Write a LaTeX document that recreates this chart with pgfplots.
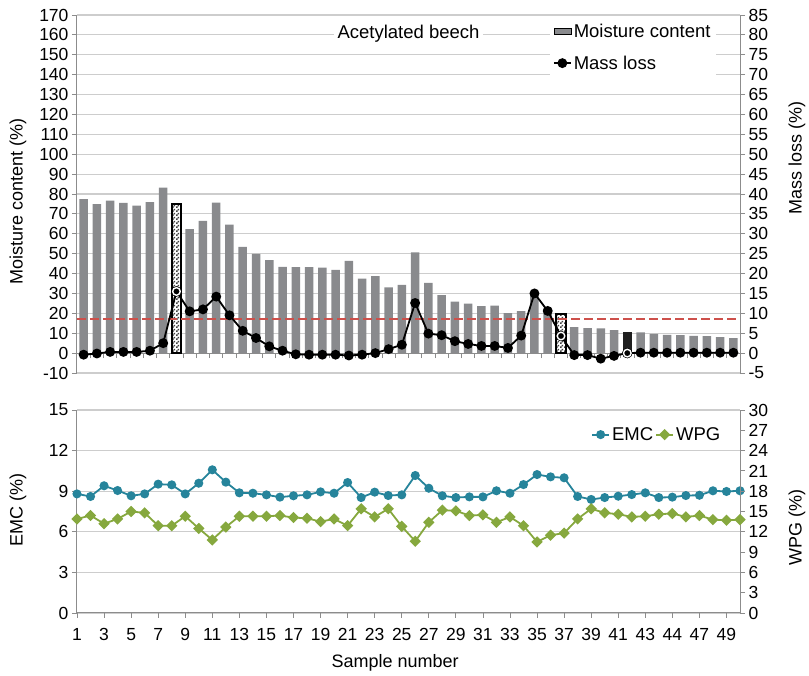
\documentclass[border=0pt]{standalone}
\usepackage{fontspec}
\setmainfont{Liberation Sans}
\usepackage{pgfplots}
\pgfplotsset{compat=1.18}
\usetikzlibrary{patterns}
\pgfdeclarepatternformonly{checks}{\pgfpoint{0pt}{0pt}}{\pgfpoint{4pt}{4pt}}{\pgfpoint{4pt}{4pt}}{%
  \pgfpathrectangle{\pgfpoint{0pt}{0pt}}{\pgfpoint{2pt}{2pt}}%
  \pgfpathrectangle{\pgfpoint{2pt}{2pt}}{\pgfpoint{2pt}{2pt}}%
  \pgfusepath{fill}}
\definecolor{barc}{RGB}{137,138,141}
\definecolor{gridc}{RGB}{205,205,205}
\definecolor{axc}{RGB}{140,140,140}
\definecolor{mlred}{RGB}{205,80,75}
\definecolor{emc}{RGB}{38,132,155}
\definecolor{wpg}{RGB}{134,168,62}
\pgfplotsset{
  base/.style={scale only axis, width=663pt,
    /pgf/number format/assume math mode=true,
    font=\fontsize{17}{20}\selectfont,
    tick label style={font=\fontsize{17.5}{20}\selectfont},
    label style={font=\fontsize{18}{21}\selectfont},
    legend style={font=\fontsize{18.5}{21}\selectfont},
    axis line style={axc, line width=1pt},
    major tick length=5pt,
    tick style={axc, line width=0.8pt},
    grid style={gridc, line width=1.2pt},
    ytick align=outside, xtick align=outside,
  }
}
\begin{document}
\begin{tikzpicture}
\useasboundingbox (-77pt,-63pt) rectangle (732pt,613pt);
% ---------- top, left axis: moisture content ----------
\begin{axis}[base, at={(0,240pt)}, anchor=south west, height=358pt,
  xmin=0.5, xmax=50.5, ymin=-10, ymax=170,
  axis y line*=left, axis x line*=middle,
  ytick={-10,0,...,170}, ymajorgrids,
  xtick={0.5,1.5,...,50.5}, xticklabels={},
  ylabel={Moisture content (\%)},
  ylabel style={at={(axis description cs:-0.089,0.48)}, anchor=center},
]
\addplot[ybar, bar width=8.5pt, bar shift=0pt, fill=barc, draw=none] coordinates {
(1,77.4)(2,74.9)(3,76.7)(4,75.5)(5,74.2)(6,75.9)(7,83.2)
(9,62.3)(10,66.5)(11,75.7)(12,64.6)(13,53.4)(14,49.9)(15,46.7)(16,43.4)(17,43.2)(18,43.2)(19,43.0)(20,41.9)
(21,46.4)(22,37.5)(23,38.7)(24,33.0)(25,34.3)(26,50.6)(27,35.3)(28,29.1)(29,25.9)(30,24.9)
(31,23.6)(32,23.9)(33,20.1)(34,21.1)(35,29.5)(36,22.5)(38,13.1)(39,12.6)(40,12.4)
(41,11.6)(43,10.4)(44,9.7)(45,9.2)(46,9.0)(47,8.7)(48,8.5)(49,8.0)(50,7.5)};
\addplot[ybar, bar width=9.5pt, bar shift=0pt, draw=black, line width=2pt, fill=white,
  postaction={pattern=checks, pattern color=black!75}] coordinates {(8,75.0)(37,19.9)};
\addplot[ybar, bar width=8.5pt, bar shift=0pt, fill=black!88, draw=none] coordinates {(42,10.7)};
\addplot[mlred, dash pattern=on 9pt off 4pt, line width=1.5pt] coordinates {(0.5,17.1)(50.5,17.1)};
\node[fill=white, inner sep=4pt, font=\fontsize{18.5}{21}\selectfont] at (axis description cs:0.50,0.947) {Acetylated beech};
\end{axis}
% ---------- top, right axis: mass loss ----------
\begin{axis}[base, at={(0,240pt)}, anchor=south west, height=358pt,
  xmin=0.5, xmax=50.5, ymin=-5, ymax=85,
  axis y line*=right, axis x line=none,
  ytick={-5,0,...,85},
  ylabel={Mass loss (\%)},
  ylabel style={at={(axis description cs:1.086,0.60)}, anchor=center},
  legend style={at={(0.713,0.99)}, anchor=north west, draw=none, fill=white,
    row sep=13pt, inner sep=3pt},
  legend cell align=left,
]
\addlegendimage{area legend, fill=barc, draw=none}
\addlegendentry{Moisture content}
\addplot[black, line width=1.8pt, mark=*, mark size=4pt, mark options={fill=black}] coordinates {
(1,-0.4)(2,-0.1)(3,0.3)(4,0.3)(5,0.3)(6,0.6)(7,2.5)(8,15.5)(9,10.5)(10,11.0)
(11,14.2)(12,9.5)(13,5.6)(14,3.8)(15,1.7)(16,0.6)(17,-0.3)(18,-0.4)(19,-0.4)(20,-0.4)
(21,-0.6)(22,-0.4)(23,0)(24,1.0)(25,2.1)(26,12.6)(27,4.9)(28,4.5)(29,3.0)(30,2.3)
(31,1.8)(32,1.8)(33,1.3)(34,4.4)(35,15.0)(36,10.6)(37,4.3)(38,-0.5)(39,-0.5)(40,-1.4)
(41,-0.7)(42,0)(43,0.1)(44,0.1)(45,0.1)(46,0.1)(47,0.1)(48,0.1)(49,0.1)(50,0.1)};
\addlegendentry{Mass loss}
\addplot[only marks, forget plot, mark=*, mark size=5pt, mark options={fill=black, draw=black}] coordinates {(8,15.5)(37,4.3)(42,0)};
\addplot[only marks, forget plot, mark=*, mark size=3.8pt, mark options={fill=black, draw=white, line width=1.4pt}] coordinates {(8,15.5)(37,4.3)(42,0)};
\end{axis}
% ---------- bottom, left axis: EMC ----------
\begin{axis}[base, at={(0,0)}, anchor=south west, height=203pt,
  xmin=1, xmax=50, ymin=0, ymax=15,
  axis y line*=left, axis x line*=bottom,
  ytick={0,3,...,15}, ymajorgrids,
  xtick={1,3,...,49},
  xticklabels={1,3,5,7,9,11,13,15,17,19,21,23,25,27,29,31,33,35,37,39,41,43,44,47,49},
  xticklabel style={yshift=-7pt},
  xlabel={Sample number},
  xlabel style={at={(axis description cs:0.48,-0.246)}, anchor=center},
  ylabel={EMC (\%)},
  ylabel style={at={(axis description cs:-0.089,0.507)}, anchor=center},
]
\addplot[emc, line width=1.8pt, mark=*, mark size=3.6pt, mark options={fill=emc}] coordinates {
(1,8.80)(2,8.61)(3,9.40)(4,9.05)(5,8.66)(6,8.80)(7,9.52)(8,9.47)(9,8.80)(10,9.59)
(11,10.58)(12,9.67)(13,8.88)(14,8.85)(15,8.73)(16,8.56)(17,8.66)(18,8.73)(19,8.95)(20,8.85)
(21,9.64)(22,8.53)(23,8.93)(24,8.68)(25,8.73)(26,10.16)(27,9.22)(28,8.66)(29,8.53)(30,8.58)
(31,8.58)(32,9.03)(33,8.85)(34,9.49)(35,10.23)(36,10.06)(37,9.99)(38,8.61)(39,8.39)(40,8.53)
(41,8.63)(42,8.75)(43,8.88)(44,8.53)(45,8.56)(46,8.68)(47,8.70)(48,9.03)(49,8.98)(50,9.03)};
\end{axis}
% ---------- bottom, right axis: WPG ----------
\begin{axis}[base, at={(0,0)}, anchor=south west, height=203pt,
  xmin=1, xmax=50, ymin=0, ymax=30,
  axis y line*=right, axis x line=none,
  ytick={0,3,...,30},
  ylabel={WPG (\%)},
  ylabel style={at={(axis description cs:1.086,0.42)}, anchor=center},
  legend style={at={(0.975,0.93)}, anchor=north east, draw=none, fill=none,
    legend columns=2, inner sep=1pt},
]
\addlegendimage{emc, line width=1.8pt, mark=*, mark size=3.6pt, mark options={fill=emc}}
\addlegendentry{EMC}
\addplot[wpg, line width=1.8pt, mark=square*, mark size=3.1pt, mark options={fill=wpg, rotate=45}] coordinates {
(1,13.9)(2,14.4)(3,13.2)(4,13.9)(5,15.0)(6,14.8)(7,12.9)(8,12.9)(9,14.3)(10,12.5)
(11,10.8)(12,12.7)(13,14.3)(14,14.3)(15,14.3)(16,14.4)(17,14.1)(18,14.0)(19,13.5)(20,13.9)
(21,12.9)(22,15.4)(23,14.2)(24,15.4)(25,12.8)(26,10.6)(27,13.4)(28,15.2)(29,15.1)(30,14.4)
(31,14.5)(32,13.4)(33,14.2)(34,12.9)(35,10.5)(36,11.5)(37,11.8)(38,13.9)(39,15.4)(40,14.8)
(41,14.6)(42,14.2)(43,14.3)(44,14.6)(45,14.7)(46,14.2)(47,14.4)(48,13.8)(49,13.7)(50,13.8)};
\addlegendentry{WPG}
\end{axis}
\end{tikzpicture}
\end{document}
